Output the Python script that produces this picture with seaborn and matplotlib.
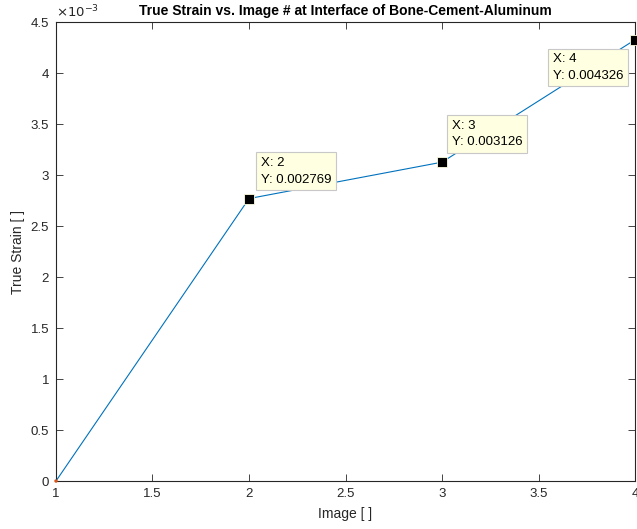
import matplotlib
matplotlib.use("Agg")
import matplotlib.pyplot as plt
import seaborn as sns
import pandas as pd
from matplotlib.ticker import FixedLocator, FuncFormatter

# Measured strain at each image
image = [1, 2, 3, 4]
strain = [0.0, 0.002769, 0.003126, 0.004326]
# Images flagged with datatips
tip_images = [2, 3, 4]
tip_strain = [0.002769, 0.003126, 0.004326]

x_ticks = [1, 1.5, 2, 2.5, 3, 3.5, 4]
y_ticks = [0, 0.0005, 0.001, 0.0015, 0.002, 0.0025, 0.003, 0.0035, 0.004, 0.0045]

sns.set_theme(style="ticks")
plt.rcParams["font.family"] = ["Liberation Sans", "DejaVu Sans"]

df = pd.DataFrame({"image": image, "strain": strain})
tips = pd.DataFrame({"image": tip_images, "strain": tip_strain})

fig = plt.figure(figsize=(6.37, 5.29), dpi=100)
ax = fig.add_axes([0.0879, 0.0907, 0.9090, 0.8677])

sns.lineplot(data=df, x="image", y="strain", ax=ax, color="#0072BD",
             linewidth=0.8, zorder=2)
# Origin marker of the second series
sns.scatterplot(x=[image[0]], y=[strain[0]], ax=ax, color="#D95319",
                s=6, edgecolor="none", zorder=3, clip_on=False)
sns.scatterplot(data=tips, x="image", y="strain", ax=ax, marker="s",
                color="black", s=48, edgecolor="#FFFFE1", linewidth=0.6,
                zorder=4, clip_on=False)

ax.set_xlim(1, 4)
ax.set_ylim(0, 0.0045)
ax.xaxis.set_major_locator(FixedLocator(x_ticks))
ax.yaxis.set_major_locator(FixedLocator(y_ticks))
ax.xaxis.set_major_formatter(FuncFormatter(lambda v, p: f"{v:g}"))
ax.yaxis.set_major_formatter(FuncFormatter(lambda v, p: f"{v * 1000:g}"))

for side in ["top", "right", "left", "bottom"]:
    ax.spines[side].set_visible(True)
    ax.spines[side].set_color("#262626")
    ax.spines[side].set_linewidth(0.8)
ax.tick_params(direction="in", length=5, width=0.6, colors="#262626",
               labelsize=9.5, top=True, right=True, pad=5)

ax.set_xlabel("Image [ ]", fontsize=10, color="#262626", labelpad=5)
ax.set_ylabel("True Strain [ ]", fontsize=10, color="#262626", labelpad=4)
ax.set_title("True Strain vs. Image # at Interface of Bone-Cement-Aluminum",
             fontsize=10, fontweight="bold", color="black", pad=5)
ax.text(0.0, 1.003, r"$\times10^{-3}$", transform=ax.transAxes,
        fontsize=9.5, color="#262626", ha="left", va="bottom")

box = dict(boxstyle="square,pad=0.35", facecolor="#FFFFE1",
           edgecolor="#C8C8C8", linewidth=0.8)
offsets = [(12, 13), (10, 14), (-82, -42)]
for xi, yi, off in zip(tip_images, tip_strain, offsets):
    ax.annotate(f"X: {xi:g}\nY: {yi:.6f}",
                xy=(xi, yi), xytext=off, textcoords="offset pixels",
                fontsize=9.5, color="black", ha="left", va="bottom",
                linespacing=1.5, bbox=box, zorder=5,
                annotation_clip=False)

fig.savefig("out.png", dpi=100)
